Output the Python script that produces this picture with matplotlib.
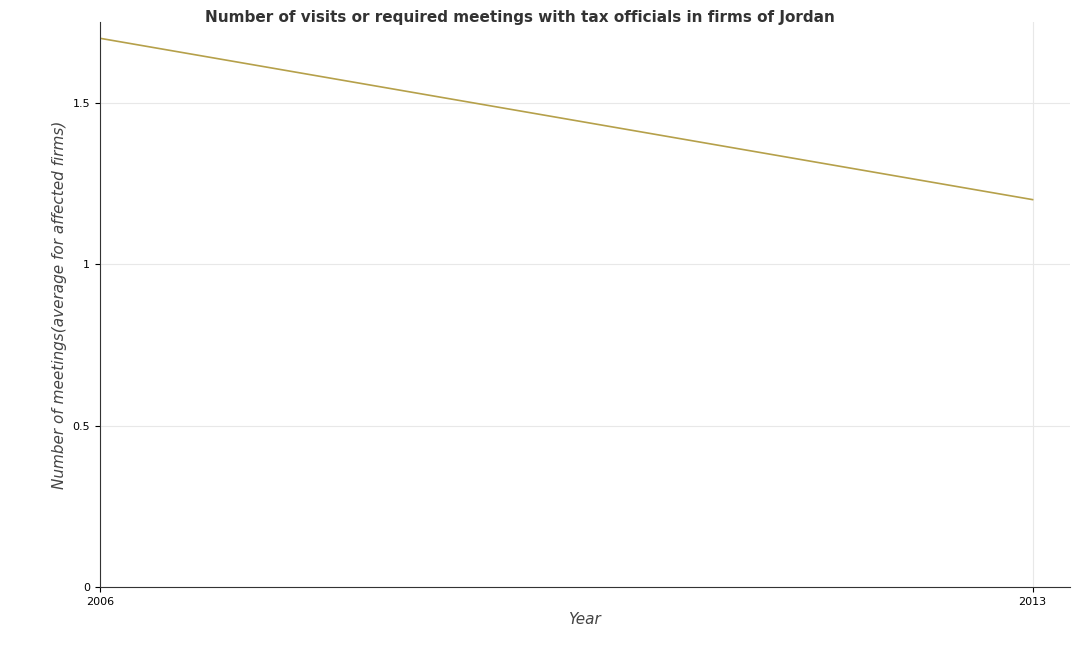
import matplotlib.pyplot as plt

years = ["2006", "2013"]
values = [1.7, 1.2]
yticks = [0, 0.5, 1, 1.5]
ytick_labels = ["0", "0.5", "1", "1.5"]

fig = plt.figure(figsize=(10.84, 6.5), dpi=100)
ax = fig.add_axes([0.092, 0.097, 0.895, 0.869])
ax.plot([0, 1], values, color="#b5a04a", linewidth=1.2)
ax.set_xlim(-0.0, 1.04)
ax.set_ylim(0, 1.75)
ax.set_xticks([0, 1])
ax.set_xticklabels(years, fontsize=8)
ax.set_yticks(yticks)
ax.set_yticklabels(ytick_labels, fontsize=8)
ax.grid(True, color="#e8e8e8", linewidth=0.8)
for s in ["top", "right"]:
    ax.spines[s].set_visible(False)
for s in ["left", "bottom"]:
    ax.spines[s].set_color("#333333")
ax.set_xlabel("Year", fontsize=11, style="italic", color="#444444")
ax.set_ylabel("Number of meetings(average for affected firms)", fontsize=11, style="italic", color="#444444")
fig.suptitle("Number of visits or required meetings with tax officials in firms of Jordan",
             x=0.48, y=0.985, fontsize=11, fontweight="bold", color="#333333")
fig.savefig("out.png")
